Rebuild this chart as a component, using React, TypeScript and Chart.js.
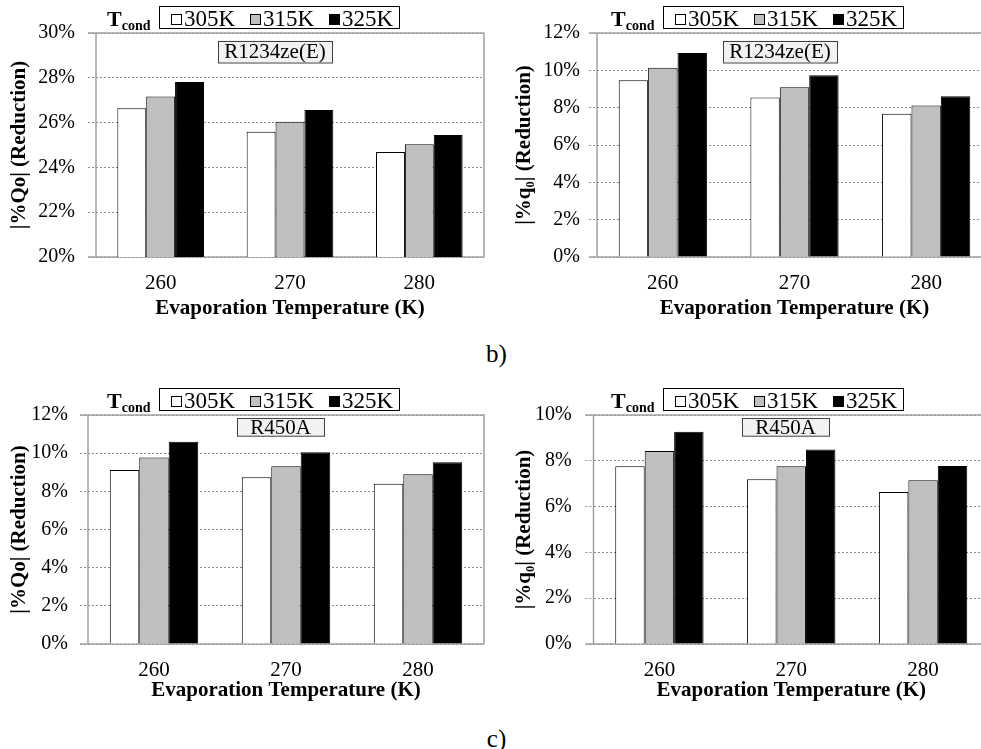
import React, { useEffect, useRef } from "react";
import { Chart, registerables } from "chart.js";

Chart.register(...registerables);

const FONT = "'Liberation Serif', 'Times New Roman', Times, serif";

// ---------- data ----------
const evapTemps = ["260", "270", "280"];
const condTemps = ["305K", "315K", "325K"];
const barColors = ["#ffffff", "#bfbfbf", "#000000"];

// b) R1234ze(E) – |%Qo|
const qoR1234ze305 = [26.64, 25.59, 24.69];
const qoR1234ze315 = [27.17, 26.04, 25.03];
const qoR1234ze325 = [27.81, 26.56, 25.45];
const yTicksQoR1234ze = [20, 22, 24, 26, 28, 30];

// b) R1234ze(E) – |%q0|
const q0R1234ze305 = [9.47, 8.55, 7.68];
const q0R1234ze315 = [10.14, 9.09, 8.11];
const q0R1234ze325 = [10.93, 9.73, 8.61];
const yTicksQ0R1234ze = [0, 2, 4, 6, 8, 10, 12];

// c) R450A – |%Qo|
const qoR450A305 = [9.12, 8.74, 8.4];
const qoR450A315 = [9.77, 9.31, 8.89];
const qoR450A325 = [10.6, 10.05, 9.52];
const yTicksQoR450A = [0, 2, 4, 6, 8, 10, 12];

// c) R450A – |%q0|
const q0R450A305 = [7.76, 7.19, 6.64];
const q0R450A315 = [8.43, 7.76, 7.15];
const q0R450A325 = [9.27, 8.49, 7.77];
const yTicksQ0R450A = [0, 2, 4, 6, 8, 10];

const xTitle = "Evaporation Temperature (K)";
const yTitleQo = "|%Qo| (Reduction)";
const yTitleQ0 = "|%q\u2080| (Reduction)";
const legendTitleMain = "T";
const legendTitleSub = "cond";

// ---------- layout (pixels, page coords) ----------
const X_AXIS_H = 70;
const panels = [
  {
    canvas: { x: 0, y: 0, w: 490, h: 330 },
    plot: { l: 96, t: 33, r: 484, b: 257 },
    series: [qoR1234ze305, qoR1234ze315, qoR1234ze325],
    yTicks: yTicksQoR1234ze,
    yTitle: yTitleQo,
    fluid: "R1234ze(E)",
    yTitleX: 20,
    tickGap: 13,
    xTitleGap: 52,
    legend: { x: 159, y: 6 },
    tag: { x: 218, y: 40.5, w: 114, h: 21.5 },
  },
  {
    canvas: { x: 490, y: 0, w: 510, h: 330 },
    plot: { l: 597, t: 33, r: 992, b: 257 },
    series: [q0R1234ze305, q0R1234ze315, q0R1234ze325],
    yTicks: yTicksQ0R1234ze,
    yTitle: yTitleQ0,
    fluid: "R1234ze(E)",
    yTitleX: 525,
    tickGap: 9,
    xTitleGap: 52,
    legend: { x: 663, y: 6 },
    tag: { x: 723, y: 40.5, w: 114, h: 21.5 },
  },
  {
    canvas: { x: 0, y: 370, w: 490, h: 349 },
    plot: { l: 88, t: 415, r: 484, b: 644 },
    series: [qoR450A305, qoR450A315, qoR450A325],
    yTicks: yTicksQoR450A,
    yTitle: yTitleQo,
    fluid: "R450A",
    yTitleX: 20,
    tickGap: 12,
    xTitleGap: 46.7,
    legend: { x: 159, y: 388.3 },
    tag: { x: 237, y: 418.3, w: 87, h: 17.7 },
  },
  {
    canvas: { x: 490, y: 370, w: 510, h: 349 },
    plot: { l: 593.5, t: 415, r: 989, b: 644 },
    series: [q0R450A305, q0R450A315, q0R450A325],
    yTicks: yTicksQ0R450A,
    yTitle: yTitleQ0,
    fluid: "R450A",
    yTitleX: 525,
    tickGap: 13.8,
    xTitleGap: 46.7,
    legend: { x: 663, y: 388.3 },
    tag: { x: 742, y: 418.3, w: 87, h: 17.7 },
  },
];

function makeDecorPlugin(p: any) {
  return {
    id: "decor",
    beforeDatasetsDraw(chart: any) {
      const { ctx, chartArea: a } = chart;
      ctx.save();
      ctx.setLineDash([]);
      ctx.strokeStyle = "#a0a0a0";
      ctx.lineWidth = 1.5;
      ctx.beginPath();
      ctx.moveTo(a.left - 8, a.top);
      ctx.lineTo(a.right, a.top);
      ctx.lineTo(a.right, a.bottom);
      ctx.lineTo(a.left - 8, a.bottom);
      ctx.moveTo(a.left, a.top);
      ctx.lineTo(a.left, a.bottom);
      ctx.stroke();
      ctx.restore();
    },
    afterDraw(chart: any) {
      const ctx = chart.ctx;
      const ox = p.canvas.x;
      const oy = p.canvas.y;
      ctx.save();
      ctx.setLineDash([]);
      // legend title T_cond
      const bx = p.legend.x - ox;
      const by = p.legend.y - oy;
      const bw = 240;
      const bh = 22;
      ctx.fillStyle = "#000";
      ctx.textAlign = "left";
      ctx.textBaseline = "alphabetic";
      ctx.font = `bold 22px ${FONT}`;
      const tx = bx - 52;
      ctx.fillText(legendTitleMain, tx, by + 19.5);
      const tw = ctx.measureText(legendTitleMain).width;
      ctx.font = `bold 14px ${FONT}`;
      ctx.fillText(legendTitleSub, tx + tw, by + 24);
      // legend box
      ctx.fillStyle = "#fff";
      ctx.fillRect(bx, by, bw, bh);
      ctx.strokeStyle = "#000";
      ctx.lineWidth = 1;
      ctx.strokeRect(Math.round(bx) + 0.5, Math.round(by) + 0.5, bw, bh);
      chart.data.datasets.forEach((ds: any, i: number) => {
        const sx = Math.round(bx + 12 + i * 79);
        const sy = Math.round(by + 8);
        ctx.fillStyle = ds.backgroundColor;
        ctx.fillRect(sx, sy, 10, 10);
        ctx.strokeStyle = "#000";
        ctx.strokeRect(sx + 0.5, sy + 0.5, 10, 10);
        ctx.fillStyle = "#000";
        ctx.font = `23px ${FONT}`;
        ctx.fillText(ds.label, sx + 13, by + 19.5);
      });
      // fluid tag
      const gx = p.tag.x - ox;
      const gy = p.tag.y - oy;
      ctx.fillStyle = "#f2f2f2";
      ctx.fillRect(gx, gy, p.tag.w, p.tag.h);
      ctx.strokeStyle = "#404040";
      ctx.lineWidth = 1;
      ctx.strokeRect(Math.round(gx) + 0.5, Math.round(gy) + 0.5, p.tag.w, p.tag.h);
      ctx.fillStyle = "#000";
      ctx.font = `21px ${FONT}`;
      ctx.textAlign = "center";
      ctx.textBaseline = "middle";
      ctx.fillText(p.fluid, gx + p.tag.w / 2, gy + p.tag.h / 2 + 1);
      ctx.restore();
    },
  };
}

function buildConfig(p: any) {
  const c = p.canvas;
  const yt = p.yTicks;
  const xTickFont = 21;
  const xTitleFont = 21;
  return {
    type: "bar",
    data: {
      labels: evapTemps,
      datasets: condTemps.map((label, i) => ({
        label,
        data: p.series[i],
        backgroundColor: barColors[i],
        borderColor: "#000",
        borderWidth: 1,
        categoryPercentage: 0.67,
        barPercentage: 1.0,
      })),
    },
    options: {
      animation: false,
      responsive: false,
      devicePixelRatio: 1,
      layout: {
        padding: {
          left: 0,
          top: p.plot.t - c.y,
          right: c.x + c.w - p.plot.r,
          bottom: c.y + c.h - (p.plot.b + X_AXIS_H),
        },
      },
      plugins: {
        legend: { display: false },
        tooltip: { enabled: false },
        title: { display: false },
      },
      scales: {
        x: {
          grid: { display: false, drawTicks: false },
          border: { display: false },
          ticks: {
            color: "#000",
            font: { family: FONT, size: xTickFont },
            padding: 26 - xTickFont * 0.6,
            maxRotation: 0,
          },
          title: {
            display: true,
            text: xTitle,
            color: "#000",
            font: { family: FONT, size: xTitleFont, weight: "bold" },
            padding: { top: 0, bottom: X_AXIS_H - p.xTitleGap - xTitleFont * 0.6 },
          },
          afterFit: (s: any) => {
            s.height = X_AXIS_H;
          },
        },
        y: {
          min: yt[0],
          max: yt[yt.length - 1],
          ticks: {
            stepSize: yt[1] - yt[0],
            color: "#000",
            font: { family: FONT, size: 20 },
            padding: p.tickGap,
            callback: (v: any) => v + "%",
          },
          grid: {
            color: "#8c8c8c",
            lineWidth: 1,
            drawTicks: true,
            tickLength: 8,
            tickColor: "#8c8c8c",
            tickBorderDash: [2, 2],
          },
          border: { display: false, dash: [2, 2] },
          title: {
            display: true,
            text: p.yTitle,
            color: "#000",
            font: { family: FONT, size: 21, weight: "bold" },
            padding: { top: p.yTitleX - c.x - 21 * 0.6, bottom: 0 },
          },
          afterFit: (s: any) => {
            s.width = p.plot.l - c.x;
          },
        },
      },
    },
    plugins: [makeDecorPlugin(p)],
  };
}

export default function App() {
  const refs = [useRef<HTMLCanvasElement>(null), useRef<HTMLCanvasElement>(null), useRef<HTMLCanvasElement>(null), useRef<HTMLCanvasElement>(null)];

  useEffect(() => {
    const charts = panels.map((p, i) => new Chart(refs[i].current as HTMLCanvasElement, buildConfig(p) as any));
    return () => charts.forEach((ch) => ch.destroy());
  }, []);

  return (
    <div
      style={{
        position: "absolute",
        left: 0,
        top: 0,
        width: 981,
        height: 749,
        overflow: "hidden",
        background: "#fff",
        fontFamily: FONT,
      }}
    >
      {panels.map((p, i) => (
        <canvas
          key={i}
          ref={refs[i]}
          width={p.canvas.w}
          height={p.canvas.h}
          style={{ position: "absolute", left: p.canvas.x, top: p.canvas.y, width: p.canvas.w, height: p.canvas.h }}
        />
      ))}
      <div style={{ position: "absolute", left: 496.5, top: 353, transform: "translate(-50%, -50%)", fontSize: 25, lineHeight: 1 }}>b)</div>
      <div style={{ position: "absolute", left: 496.5, top: 738, transform: "translate(-50%, -50%)", fontSize: 25, lineHeight: 1 }}>c)</div>
    </div>
  );
}
